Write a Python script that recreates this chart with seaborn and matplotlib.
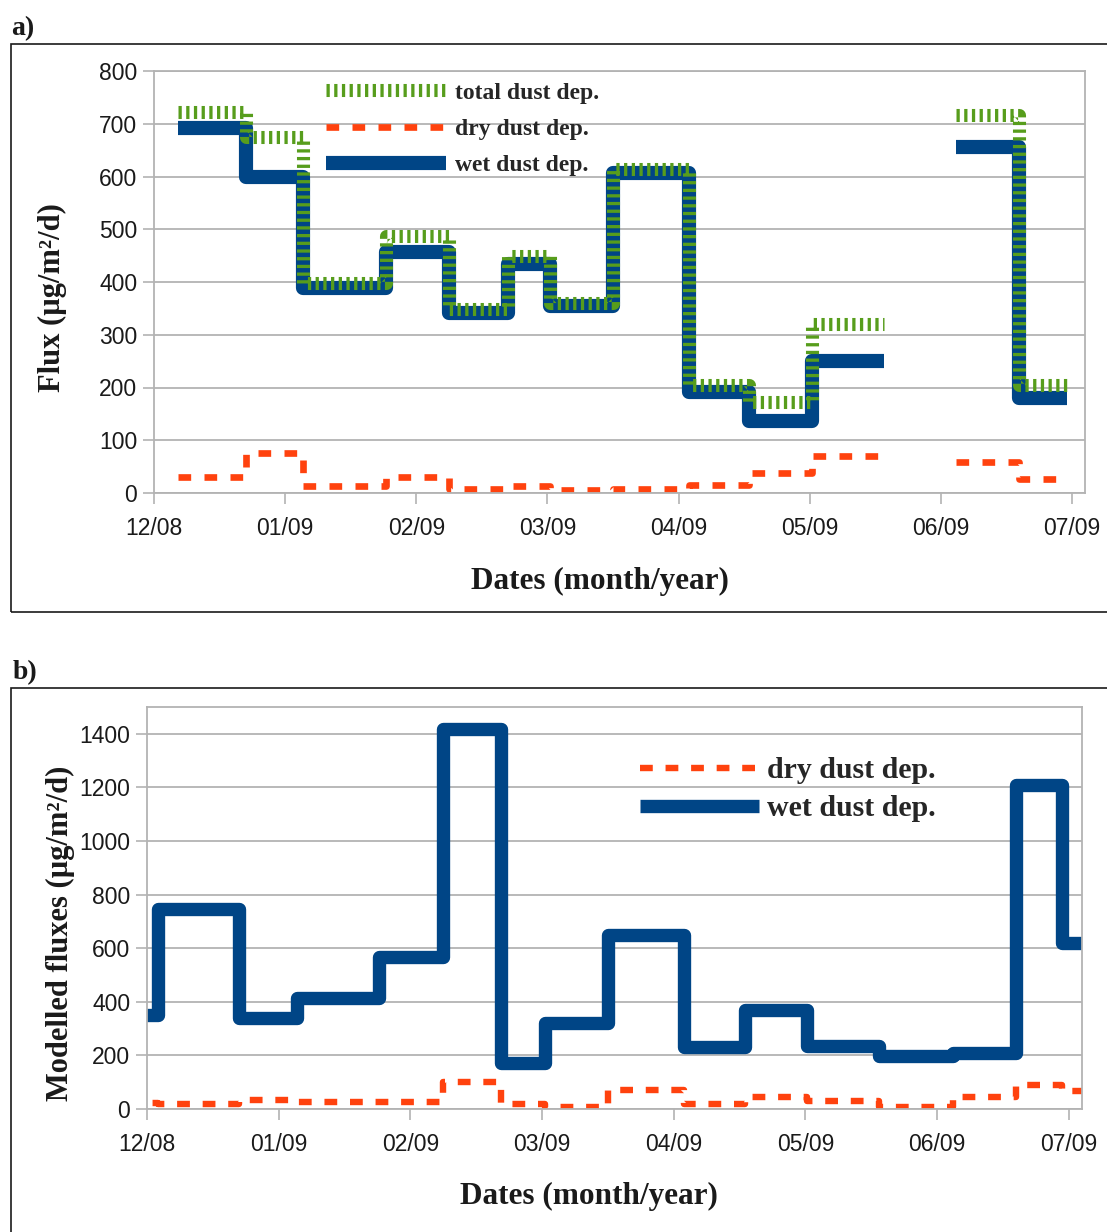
import numpy as np
import pandas as pd
import matplotlib
matplotlib.use("Agg")
import matplotlib.pyplot as plt
import seaborn as sns
from matplotlib.patches import Rectangle

# ---------------- data (x in months since 1 Dec 2008) ----------------
month_labels = ["12/08", "01/09", "02/09", "03/09", "04/09", "05/09", "06/09", "07/09"]

# panel a: measured fluxes, two sampling blocks separated by a gap
a_edges_1 = [0.18, 0.70, 1.14, 1.77, 2.25, 2.70, 3.02, 3.50, 4.08, 4.54, 5.02, 5.57]
a_edges_2 = [6.12, 6.60, 6.96]
a_total_1 = [722, 674, 398, 488, 348, 449, 360, 614, 205, 173, 320]
a_total_2 = [716, 205]
a_dry_1 = [31, 76, 13, 30, 8, 14, 6, 7, 15, 38, 70]
a_dry_2 = [59, 27]
a_wet_1 = [692, 599, 388, 457, 342, 434, 355, 606, 191, 137, 250]
a_wet_2 = [656, 181]

# panel b: modelled fluxes
b_edges = [-0.15, 0.086, 0.70, 1.14, 1.76, 2.25, 2.69, 3.02, 3.50, 4.08, 4.54,
           5.01, 5.56, 6.12, 6.60, 6.95, 7.30]
b_wet = [352, 745, 341, 416, 569, 1417, 171, 321, 648, 230, 368, 236, 198, 208, 1208, 618]
b_dry = [22, 18, 32, 26, 25, 101, 18, 9, 71, 18, 45, 30, 8, 45, 89, 68]

# ---------------- styling ----------------
BLUE = "#004586"
ORANGE = "#ff420e"
GREEN = "#579d1c"
GRID = "#b3b3b3"
TXT = "#1a1a1a"

sns.set_theme(style="white")
plt.rcParams["font.family"] = ["Liberation Sans", "DejaVu Sans"]
SERIF = ["Liberation Serif", "DejaVu Serif"]

W, H = 1107, 1232
fig = plt.figure(figsize=(W / 100, H / 100), dpi=100)


def fx(px):
    return px / W


def fy(py):
    return 1 - py / H


def step_frame(blocks):
    rows = []
    for seg, (edges, vals) in enumerate(blocks):
        ys = list(vals) + [vals[-1]]
        for x, y in zip(edges, ys):
            rows.append({"x": x, "y": y, "seg": seg})
    return pd.DataFrame(rows)


def draw(ax, df, **kws):
    n0 = len(ax.lines)
    sns.lineplot(data=df, x="x", y="y", units="seg", estimator=None, sort=False,
                 drawstyle="steps-post", legend=False, ax=ax, **kws)
    return ax.lines[n0]


def style_axes(ax, ymax, yticks):
    ax.set_xlim(0, 7.1)
    ax.set_ylim(0, ymax)
    ax.set_xticks(range(8))
    ax.set_xticklabels(month_labels)
    ax.set_yticks(yticks)
    ax.set_xlabel("")
    ax.set_ylabel("")
    for sp in ax.spines.values():
        sp.set_color(GRID)
        sp.set_linewidth(1.3)
        sp.set_visible(True)
    ax.grid(axis="y", color=GRID, lw=1.3)
    ax.grid(axis="x", visible=False)
    ax.set_axisbelow(True)
    ax.tick_params(axis="both", direction="out", length=8, width=1.2, color=GRID,
                   labelsize=16.5, labelcolor=TXT)
    ax.tick_params(axis="x", pad=9, bottom=True)
    ax.tick_params(axis="y", pad=4, left=True)


# frames around the panels
fig.patches.append(Rectangle((fx(10.5), fy(612)), 1.0, fy(44) - fy(612),
                             transform=fig.transFigure, fill=False, ec=TXT, lw=1.2))
fig.patches.append(Rectangle((fx(10.5), fy(1300)), 1.0, fy(688) - fy(1300),
                             transform=fig.transFigure, fill=False, ec=TXT, lw=1.2))

# ---------------- panel a ----------------
axA = fig.add_axes([fx(154), fy(493), fx(1085) - fx(154), fy(71) - fy(493)])
hA_dry = draw(axA, step_frame([(a_edges_1, a_dry_1), (a_edges_2, a_dry_2)]),
              color=ORANGE, lw=4.8, linestyle=(0, (1.9, 2.0)), dash_capstyle="butt")
hA_wet = draw(axA, step_frame([(a_edges_1, a_wet_1), (a_edges_2, a_wet_2)]),
              color=BLUE, lw=10.2, solid_joinstyle="round", solid_capstyle="butt")
hA_tot = draw(axA, step_frame([(a_edges_1, a_total_1), (a_edges_2, a_total_2)]),
              color=GREEN, lw=9.4, linestyle=(0, (0.25, 0.34)), dash_capstyle="butt")
style_axes(axA, 800, range(0, 801, 100))
axA.legend([hA_tot, hA_dry, hA_wet], ["total dust dep.", "dry dust dep.", "wet dust dep."],
           loc="upper left", bbox_to_anchor=(fx(326), fy(82)), bbox_transform=fig.transFigure,
           frameon=False, borderpad=0, borderaxespad=0, handlelength=5.1,
           handletextpad=0.38, labelspacing=0.63,
           prop={"family": SERIF, "weight": "bold", "size": 17})

# ---------------- panel b ----------------
axB = fig.add_axes([fx(147), fy(1109), fx(1082) - fx(147), fy(707) - fy(1109)])
hB_dry = draw(axB, step_frame([(b_edges, b_dry)]),
              color=ORANGE, lw=4.6, linestyle=(0, (2.0, 2.0)), dash_capstyle="butt")
hB_wet = draw(axB, step_frame([(b_edges, b_wet)]),
              color=BLUE, lw=9.6, solid_joinstyle="round", solid_capstyle="butt")
style_axes(axB, 1500, range(0, 1401, 200))
axB.legend([hB_dry, hB_wet], ["dry dust dep.", "wet dust dep."],
           loc="upper left", bbox_to_anchor=(fx(640), fy(757)), bbox_transform=fig.transFigure,
           frameon=False, borderpad=0, borderaxespad=0, handlelength=4.0,
           handletextpad=0.26, labelspacing=0.37,
           prop={"family": SERIF, "weight": "bold", "size": 21.5})

# ---------------- texts ----------------
lab = dict(family=SERIF, weight="bold", color=TXT)
fig.text(fx(11), fy(29), "a)", fontsize=20, ha="left", va="center", **lab)
fig.text(fx(13), fy(673), "b)", fontsize=20, ha="left", va="center", **lab)
fig.text(fx(600), fy(581), "Dates (month/year)", fontsize=22.5, ha="center", va="center", **lab)
fig.text(fx(589), fy(1196), "Dates (month/year)", fontsize=22.5, ha="center", va="center", **lab)
fig.text(fx(52), fy(298), "Flux (µg/m²/d)", fontsize=22, rotation=90,
         ha="center", va="center", **lab)
fig.text(fx(60), fy(933), "Modelled fluxes (µg/m²/d)", fontsize=22, rotation=90,
         ha="center", va="center", **lab)

fig.savefig("out.png", dpi=100)
